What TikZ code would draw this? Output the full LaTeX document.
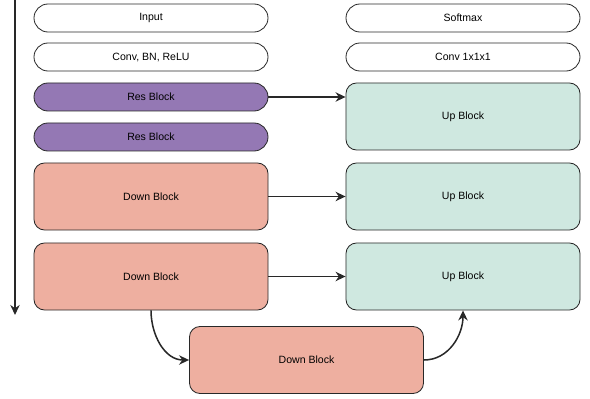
\documentclass[tikz,border=0pt]{standalone}
\usepackage{fontspec}
\setmainfont{Liberation Sans}
\usetikzlibrary{positioning,arrows.meta,calc}
\definecolor{resfill}{RGB}{148,120,180}
\definecolor{downfill}{RGB}{238,175,160}
\definecolor{upfill}{RGB}{207,232,224}
\definecolor{rule}{RGB}{40,40,40}

\begin{document}
\begin{tikzpicture}[
  x=0.03cm, y=-0.03cm,
  font=\fontsize{9}{11}\selectfont,
  box/.style={draw=rule,line width=0.7pt,rounded corners=12pt,
              minimum width=7.02cm,minimum height=0.84cm,align=center},
  thin/.style={box,fill=white},
  res/.style={box,fill=resfill},
  blk/.style={box,rounded corners=9pt,minimum height=2.01cm},
  down/.style={blk,fill=downfill},
  up/.style={blk,fill=upfill},
  skip/.style={-{Stealth[length=3mm,width=2.8mm]},rule,line width=1.3pt},
]
\useasboundingbox (0,0) rectangle (590,399);

% encoder side
\node[thin] (inp) at (151,18) {Input};
\node[thin] (conv) at (151,57) {Conv, BN, ReLU};
\node[res] (res1) at (151,97) {Res Block};
\node[res] (res2) at (151,137) {Res Block};
\node[down] (down1) at (151,196.5) {Down Block};
\node[down] (down2) at (151,276.5) {Down Block};
\node[down] (down3) at (306.5,360) {Down Block};

% decoder side
\node[thin] (soft) at (463,18) {Softmax};
\node[thin] (conv1) at (463,57) {Conv 1x1x1};
\node[up] (up1) at (463,116.5) {Up Block};
\node[up] (up2) at (463,196.5) {Up Block};
\node[up] (up3) at (463,276.5) {Up Block};

% flow direction
\coordinate (top) at (15,0);
\coordinate (bot) at (15,315);
\draw[skip] (top) -- (bot);

\draw[skip] (res1.east) -- (res1.east -| up1.west);
\draw[skip] (down1.east) -- (up2.west);
\draw[skip] (down2.east) -- (up3.west);
\draw[skip] (down2.south) to[out=-90,in=180] (down3.west);
\draw[skip] (down3.east) to[out=0,in=-90] (up3.south);
\end{tikzpicture}
\end{document}
